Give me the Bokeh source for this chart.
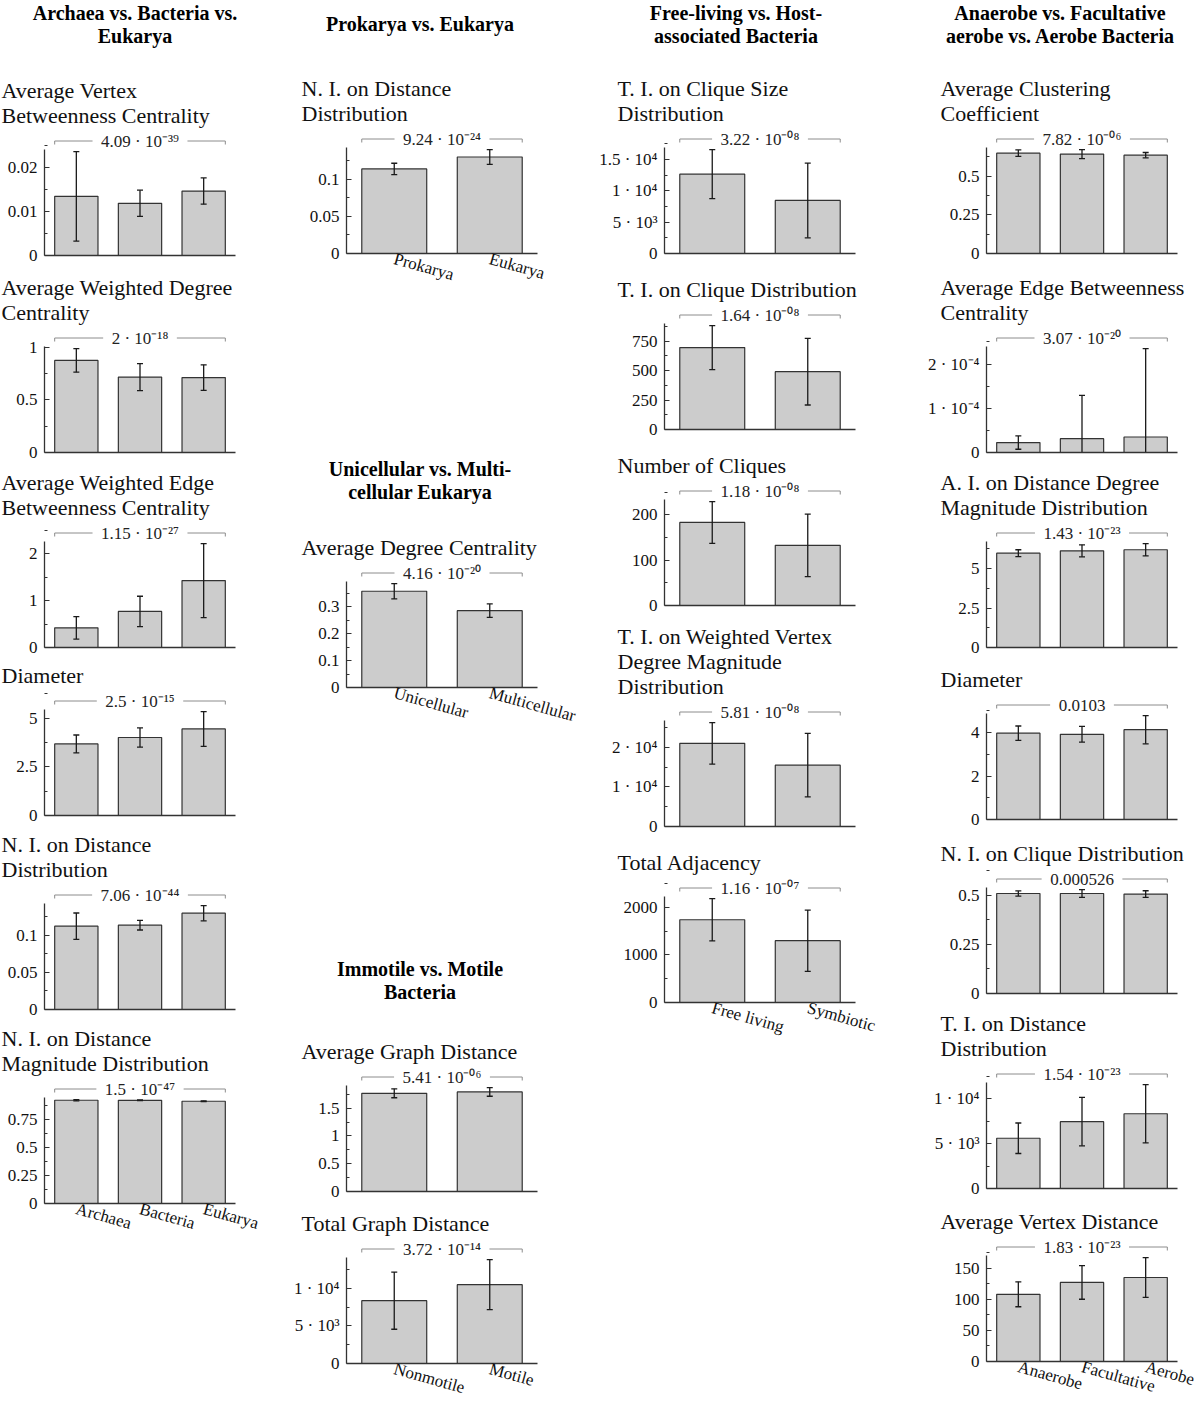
import numpy as np
from bokeh.plotting import figure
from bokeh.models import Range1d, FixedTicker, Div
from bokeh.layouts import column, row
from bokeh.embed import file_html
from bokeh.resources import INLINE
from bokeh.core.properties import value

FONT = "Liberation Serif"

# ---------------- categories ----------------
domains = ["Archaea", "Bacteria", "Eukarya"]
prok_euk = ["Prokarya", "Eukarya"]
cellularity = ["Unicellular", "Multicellular"]
motility = ["Nonmotile", "Motile"]
lifestyle = ["Free living", "Symbiotic"]
oxygen = ["Anaerobe", "Facultative", "Aerobe"]

# ---------------- Archaea vs. Bacteria vs. Eukarya ----------------
dom_avbc_mean = [0.0135, 0.0119, 0.0147]
dom_avbc_sd = [0.0102, 0.0030, 0.0030]
dom_avbc_p = "4.09e-39"
dom_avbc_ticks = [0, 0.01, 0.02]
dom_avbc_labels = ["0", "0.01", "0.02"]

dom_awdc_mean = [0.874, 0.716, 0.711]
dom_awdc_sd = [0.112, 0.128, 0.121]
dom_awdc_p = "2e-18"
dom_awdc_ticks = [0, 0.5, 1]
dom_awdc_labels = ["0", "0.5", "1"]

dom_awebc_mean = [0.42, 0.77, 1.43]
dom_awebc_sd = [0.24, 0.325, 0.79]
dom_awebc_p = "1.15e-27"
dom_awebc_ticks = [0, 1, 2]
dom_awebc_labels = ["0", "1", "2"]

dom_diam_mean = [3.67, 4.0, 4.44]
dom_diam_sd = [0.46, 0.49, 0.89]
dom_diam_p = "2.5e-15"
dom_diam_ticks = [0, 2.5, 5]
dom_diam_labels = ["0", "2.5", "5"]

dom_nidd_mean = [0.1125, 0.1138, 0.130]
dom_nidd_sd = [0.0178, 0.0065, 0.0103]
dom_nidd_p = "7.06e-44"
dom_nidd_ticks = [0, 0.05, 0.1]
dom_nidd_labels = ["0", "0.05", "0.1"]

dom_nidmd_mean = [0.926, 0.925, 0.917]
dom_nidmd_sd = [0.006, 0.003, 0.004]
dom_nidmd_p = "1.5e-47"
dom_nidmd_ticks = [0, 0.25, 0.5, 0.75]
dom_nidmd_labels = ["0", "0.25", "0.5", "0.75"]

# ---------------- Prokarya vs. Eukarya ----------------
pe_nidd_mean = [0.1139, 0.130]
pe_nidd_sd = [0.0077, 0.010]
pe_nidd_p = "9.24e-24"
pe_nidd_ticks = [0, 0.05, 0.1]
pe_nidd_labels = ["0", "0.05", "0.1"]

# ---------------- Unicellular vs. Multicellular Eukarya ----------------
cell_adc_mean = [0.357, 0.285]
cell_adc_sd = [0.0285, 0.025]
cell_adc_p = "4.16e-20"
cell_adc_ticks = [0, 0.1, 0.2, 0.3]
cell_adc_labels = ["0", "0.1", "0.2", "0.3"]

# ---------------- Immotile vs. Motile Bacteria ----------------
mot_agd_mean = [1.769, 1.794]
mot_agd_sd = [0.08, 0.078]
mot_agd_p = "5.41e-06"
mot_agd_ticks = [0, 0.5, 1, 1.5]
mot_agd_labels = ["0", "0.5", "1", "1.5"]

mot_tgd_mean = [8350, 10480]
mot_tgd_sd = [3800, 3330]
mot_tgd_p = "3.72e-14"
mot_tgd_ticks = [0, 5000, 10000]
mot_tgd_labels = ["0", "5e3", "1e4"]

# ---------------- Free-living vs. Host-associated Bacteria ----------------
life_ticsd_mean = [12670, 8470]
life_ticsd_sd = [3920, 5960]
life_ticsd_p = "3.22e-08"
life_ticsd_ticks = [0, 5000, 10000, 15000]
life_ticsd_labels = ["0", "5e3", "1e4", "1.5e4"]

life_ticd_mean = [695, 491]
life_ticd_sd = [187, 283]
life_ticd_p = "1.64e-08"
life_ticd_ticks = [0, 250, 500, 750]
life_ticd_labels = ["0", "250", "500", "750"]

life_noc_mean = [183, 132.5]
life_noc_sd = [46, 69]
life_noc_p = "1.18e-08"
life_noc_ticks = [0, 100, 200]
life_noc_labels = ["0", "100", "200"]

life_tiwv_mean = [21040, 15520]
life_tiwv_sd = [5250, 8030]
life_tiwv_p = "5.81e-08"
life_tiwv_ticks = [0, 10000, 20000]
life_tiwv_labels = ["0", "1e4", "2e4"]

life_ta_mean = [1740, 1300]
life_ta_sd = [445, 644]
life_ta_p = "1.16e-07"
life_ta_ticks = [0, 1000, 2000]
life_ta_labels = ["0", "1000", "2000"]

# ---------------- Anaerobe vs. Facultative aerobe vs. Aerobe ----------------
oxy_acc_mean = [0.648, 0.642, 0.635]
oxy_acc_sd = [0.021, 0.029, 0.017]
oxy_acc_p = "7.82e-06"
oxy_acc_ticks = [0, 0.25, 0.5]
oxy_acc_labels = ["0", "0.25", "0.5"]

oxy_aebc_mean = [2.24e-5, 3.13e-5, 3.51e-5]
oxy_aebc_sd = [1.5e-5, 9.8e-5, 2.0e-4]
oxy_aebc_p = "3.07e-20"
oxy_aebc_ticks = [0, 1e-4, 2e-4]
oxy_aebc_labels = ["0", "1e-4", "2e-4"]

oxy_aiddm_mean = [5.98, 6.13, 6.2]
oxy_aiddm_sd = [0.22, 0.38, 0.39]
oxy_aiddm_p = "1.43e-23"
oxy_aiddm_ticks = [0, 2.5, 5]
oxy_aiddm_labels = ["0", "2.5", "5"]

oxy_diam_mean = [3.97, 3.92, 4.13]
oxy_diam_sd = [0.33, 0.36, 0.65]
oxy_diam_p = "0.0103"
oxy_diam_ticks = [0, 2, 4]
oxy_diam_labels = ["0", "2", "4"]

oxy_nicd_mean = [0.510, 0.510, 0.507]
oxy_nicd_sd = [0.013, 0.020, 0.017]
oxy_nicd_p = "0.000526"
oxy_nicd_ticks = [0, 0.25, 0.5]
oxy_nicd_labels = ["0", "0.25", "0.5"]

oxy_tidd_mean = [5600, 7450, 8330]
oxy_tidd_sd = [1700, 2700, 3250]
oxy_tidd_p = "1.54e-23"
oxy_tidd_ticks = [0, 5000, 10000]
oxy_tidd_labels = ["0", "5e3", "1e4"]

oxy_avd_mean = [108, 127, 135]
oxy_avd_sd = [20, 27, 32]
oxy_avd_p = "1.83e-23"
oxy_avd_ticks = [0, 50, 100, 150]
oxy_avd_labels = ["0", "50", "100", "150"]

# ---------------- layout constants ----------------
FRAME_W = 191
AX_LEN = 106      # px from zero line to top of y axis
HEAD = 18         # px above the axis reserved for the p-value bracket
STANDOFF = 8
COLS = [
    dict(left=44, right=55, hc=135, toff=-43),
    dict(left=53, right=56, hc=130, toff=-45),
    dict(left=71, right=68, hc=143, toff=-47),
    dict(left=63, right=26, hc=137, toff=-46),
]

SUP = str.maketrans("0123456789-", "\u2070\u00b9\u00b2\u00b3\u2074\u2075\u2076\u2077\u2078\u2079\u207b")


def fmt(s):
    if "e" in s:
        m, e = s.split("e")
        return f"{m} \u00b7 10{e.translate(SUP)}"
    return s


def spec(title, cats, mean, sd, p, ticks, labels):
    return dict(title=title, cats=cats, mean=mean, sd=sd, p=p, ticks=ticks, labels=labels)


def base_fig(**kw):
    p = figure(output_backend="svg", toolbar_location=None, **kw)
    p.outline_line_color = None
    p.background_fill_color = "white"
    p.border_fill_color = "white"
    for g in p.grid:
        g.visible = False
    return p


def make_header(text, col, height, cx, ty):
    colw = col["left"] + FRAME_W + col["right"]
    html = ("<div style=\"margin:0; padding:%dpx 0 0 0; width:%dpx; text-align:center; "
            "font-family:'Liberation Serif'; font-weight:bold; font-size:20px; "
            "line-height:23px; color:#000000;\">%s</div>"
            % (ty, 2 * cx, "<br>".join(text.split("\n"))))
    return Div(text=html, width=colw, height=max(height, 1), margin=0,
               styles={"overflow": "visible"})


def make_panel(s, col, mbt, mbb, show_x):
    cats = s["cats"]
    means = np.asarray(s["mean"], float)
    sds = np.asarray(s["sd"], float)
    n = len(cats)
    xs = np.arange(n)
    hi = means + sds
    lo = means - sds
    top = hi.max() * 1.02
    unit = top / AX_LEN
    yend = top + HEAD * unit
    p = base_fig(frame_width=FRAME_W, frame_height=AX_LEN + HEAD,
                 x_range=Range1d(-0.5, n - 0.5), y_range=Range1d(0, yend),
                 min_border_left=col["left"], min_border_right=col["right"],
                 min_border_top=mbt, min_border_bottom=mbb, title=s["title"])
    t = p.title
    t.text_font = FONT
    t.text_font_style = "normal"
    t.text_font_size = "22px"
    t.text_color = "#111111"
    t.align = "left"
    t.offset = col["toff"]
    t.standoff = STANDOFF
    t.text_line_height = 1.0

    W = 0.68
    p.vbar(x=xs, top=means, width=W, bottom=0, fill_color="#cccccc",
           line_color="#333333", line_width=1.2)
    p.segment(x0=xs, y0=lo, x1=xs, y1=hi, line_color="#1a1a1a", line_width=1.3)
    p.scatter(x=np.concatenate([xs, xs]), y=np.concatenate([hi, lo]), marker="dash",
              size=6, line_color="#1a1a1a", line_width=1.3)

    by = top + 8.5 * unit
    d = 3.5 * unit
    x0, x1 = -W / 2, n - 1 + W / 2
    p.line(x=[x0, x0, x1, x1], y=[by - d, by, by, by - d], line_color="#8c8c8c", line_width=1)
    pad = "\u00a0\u00a0"
    p.text(x=[(n - 1) / 2], y=[by], text=[pad + fmt(s["p"]) + pad], text_align="center",
           text_baseline="middle", text_font=value(FONT), text_font_size="17px",
           text_color="#222222", background_fill_color="white")

    ticks = s["ticks"]
    step = ticks[1] - ticks[0]
    minor = [a + step / 2 for a in ticks]
    ya = p.yaxis[0]
    ya.ticker = FixedTicker(ticks=ticks, minor_ticks=minor)
    ya.major_label_overrides = {tk: fmt(lb) for tk, lb in zip(ticks, s["labels"])}
    ya.bounds = (0, top)
    ya.major_tick_in = 5
    ya.major_tick_out = 0
    ya.minor_tick_in = 3
    ya.minor_tick_out = 0
    ya.axis_line_color = "#333333"
    ya.axis_line_width = 1.3
    ya.major_tick_line_color = "#333333"
    ya.minor_tick_line_color = "#333333"
    ya.major_label_text_font = FONT
    ya.major_label_text_font_size = "17px"
    ya.major_label_text_color = "#111111"
    ya.major_label_standoff = 7

    xa = p.xaxis[0]
    xa.major_tick_in = 0
    xa.major_tick_out = 0
    xa.minor_tick_in = 0
    xa.minor_tick_out = 0
    xa.axis_line_color = "#333333"
    xa.axis_line_width = 1.3
    if show_x:
        xa.ticker = FixedTicker(ticks=list(range(n)))
        xa.major_label_overrides = {i: c for i, c in enumerate(cats)}
        xa.major_label_orientation = -0.27
        xa.major_label_text_font = FONT
        xa.major_label_text_font_size = "17px"
        xa.major_label_text_color = "#111111"
        xa.major_label_standoff = 5
    else:
        xa.ticker = FixedTicker(ticks=[])
        xa.major_label_standoff = 0
    return p


def needed_top(nl):
    return int(round(26.5 * nl)) + STANDOFF


def build_column(items, col):
    children = []
    cur = 0
    header = None
    for it in items:
        if it[0] == "header":
            header = it
            continue
        _, s, y0, show_x, mbb = it
        nl = s["title"].count("\n") + 1
        frame_top = y0 - AX_LEN - HEAD
        nt = needed_top(nl)
        if header is not None:
            _, text, ty = header
            mbt = nt + 3
            hh = frame_top - mbt - cur
            children.append(make_header(text, col, hh, col["hc"], ty - cur))
            cur += max(hh, 1)
            header = None
        else:
            mbt = max(frame_top - cur, nt)
        children.append(make_panel(s, col, mbt, mbb, show_x))
        cur = cur + mbt + AX_LEN + HEAD + mbb
    return column(children)


NB = 9   # bottom border of panels without category labels

col1_items = [
    ("header", "Archaea vs. Bacteria vs.\nEukarya", 2),
    ("panel", spec("Average Vertex\nBetweenness Centrality", domains, dom_avbc_mean, dom_avbc_sd,
                   dom_avbc_p, dom_avbc_ticks, dom_avbc_labels), 255, False, NB),
    ("panel", spec("Average Weighted Degree\nCentrality", domains, dom_awdc_mean, dom_awdc_sd,
                   dom_awdc_p, dom_awdc_ticks, dom_awdc_labels), 452, False, NB),
    ("panel", spec("Average Weighted Edge\nBetweenness Centrality", domains, dom_awebc_mean,
                   dom_awebc_sd, dom_awebc_p, dom_awebc_ticks, dom_awebc_labels), 647, False, NB),
    ("panel", spec("Diameter", domains, dom_diam_mean, dom_diam_sd, dom_diam_p, dom_diam_ticks,
                   dom_diam_labels), 814, False, NB),
    ("panel", spec("N. I. on Distance\nDistribution", domains, dom_nidd_mean, dom_nidd_sd,
                   dom_nidd_p, dom_nidd_ticks, dom_nidd_labels), 1006, False, NB),
    ("panel", spec("N. I. on Distance\nMagnitude Distribution", domains, dom_nidmd_mean,
                   dom_nidmd_sd, dom_nidmd_p, dom_nidmd_ticks, dom_nidmd_labels), 1202, True, 50),
]

col2_items = [
    ("header", "Prokarya vs. Eukarya", 13),
    ("panel", spec("N. I. on Distance\nDistribution", prok_euk, pe_nidd_mean, pe_nidd_sd,
                   pe_nidd_p, pe_nidd_ticks, pe_nidd_labels), 253, True, 45),
    ("header", "Unicellular vs. Multi-\ncellular Eukarya", 458),
    ("panel", spec("Average Degree Centrality", cellularity, cell_adc_mean, cell_adc_sd,
                   cell_adc_p, cell_adc_ticks, cell_adc_labels), 687, True, 55),
    ("header", "Immotile vs. Motile\nBacteria", 958),
    ("panel", spec("Average Graph Distance", motility, mot_agd_mean, mot_agd_sd, mot_agd_p,
                   mot_agd_ticks, mot_agd_labels), 1191, False, NB),
    ("panel", spec("Total Graph Distance", motility, mot_tgd_mean, mot_tgd_sd, mot_tgd_p,
                   mot_tgd_ticks, mot_tgd_labels), 1363, True, 40),
]

col3_items = [
    ("header", "Free-living vs. Host-\nassociated Bacteria", 2),
    ("panel", spec("T. I. on Clique Size\nDistribution", lifestyle, life_ticsd_mean,
                   life_ticsd_sd, life_ticsd_p, life_ticsd_ticks, life_ticsd_labels), 253, False, NB),
    ("panel", spec("T. I. on Clique Distribution", lifestyle, life_ticd_mean, life_ticd_sd,
                   life_ticd_p, life_ticd_ticks, life_ticd_labels), 429, False, NB),
    ("panel", spec("Number of Cliques", lifestyle, life_noc_mean, life_noc_sd, life_noc_p,
                   life_noc_ticks, life_noc_labels), 605, False, NB),
    ("panel", spec("T. I. on Weighted Vertex\nDegree Magnitude\nDistribution", lifestyle,
                   life_tiwv_mean, life_tiwv_sd, life_tiwv_p, life_tiwv_ticks,
                   life_tiwv_labels), 826, False, NB),
    ("panel", spec("Total Adjacency", lifestyle, life_ta_mean, life_ta_sd, life_ta_p,
                   life_ta_ticks, life_ta_labels), 1002, True, 45),
]

col4_items = [
    ("header", "Anaerobe vs. Facultative\naerobe vs. Aerobe Bacteria", 2),
    ("panel", spec("Average Clustering\nCoefficient", oxygen, oxy_acc_mean, oxy_acc_sd,
                   oxy_acc_p, oxy_acc_ticks, oxy_acc_labels), 253, False, NB),
    ("panel", spec("Average Edge Betweenness\nCentrality", oxygen, oxy_aebc_mean, oxy_aebc_sd,
                   oxy_aebc_p, oxy_aebc_ticks, oxy_aebc_labels), 452, False, NB),
    ("panel", spec("A. I. on Distance Degree\nMagnitude Distribution", oxygen, oxy_aiddm_mean,
                   oxy_aiddm_sd, oxy_aiddm_p, oxy_aiddm_ticks, oxy_aiddm_labels), 647, False, NB),
    ("panel", spec("Diameter", oxygen, oxy_diam_mean, oxy_diam_sd, oxy_diam_p, oxy_diam_ticks,
                   oxy_diam_labels), 819, False, NB),
    ("panel", spec("N. I. on Clique Distribution", oxygen, oxy_nicd_mean, oxy_nicd_sd,
                   oxy_nicd_p, oxy_nicd_ticks, oxy_nicd_labels), 993, False, NB),
    ("panel", spec("T. I. on Distance\nDistribution", oxygen, oxy_tidd_mean, oxy_tidd_sd,
                   oxy_tidd_p, oxy_tidd_ticks, oxy_tidd_labels), 1188, False, NB),
    ("panel", spec("Average Vertex Distance", oxygen, oxy_avd_mean, oxy_avd_sd, oxy_avd_p,
                   oxy_avd_ticks, oxy_avd_labels), 1361, True, 40),
]

root = row(build_column(col1_items, COLS[0]), build_column(col2_items, COLS[1]),
           build_column(col3_items, COLS[2]), build_column(col4_items, COLS[3]))

open("out.html", "w").write(file_html(root, INLINE, "chart"))
